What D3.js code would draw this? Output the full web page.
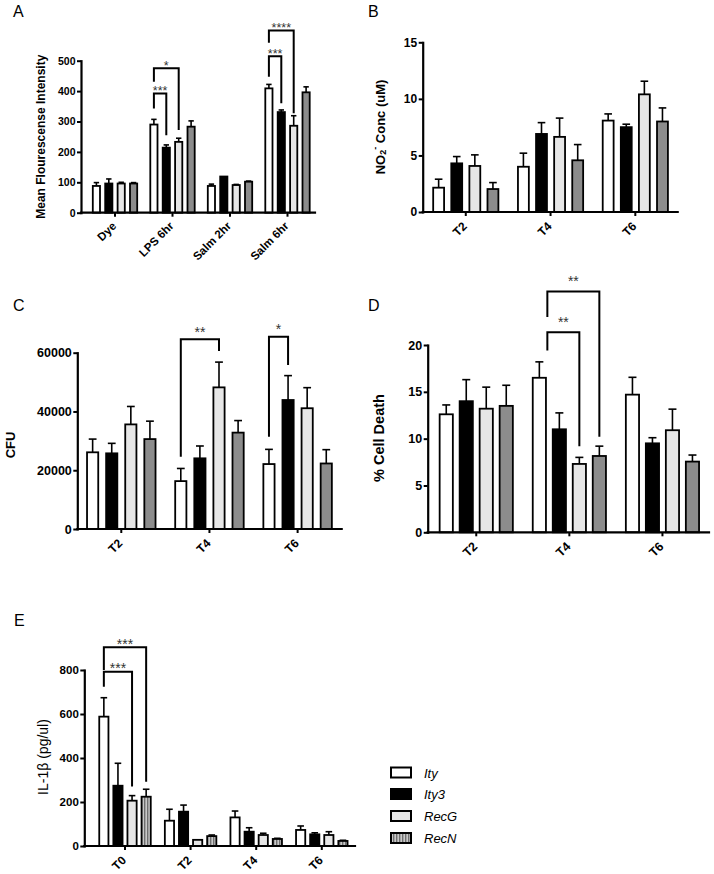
<!DOCTYPE html>
<html><head><meta charset="utf-8">
<script src="https://cdn.jsdelivr.net/npm/d3@7"></script>
<style>
body{margin:0;background:#fff}
svg{display:block;font-family:"Liberation Sans",Arial,Helvetica,sans-serif}
</style>
</head><body>
<svg id="chart" width="714" height="874"></svg>
<script>
// ---------------- DATA ----------------
const series = ["Ity", "Ity3", "RecG", "RecN"];

// Panel A: Mean Fluorescence Intensity
const catsA = ["Dye", "LPS 6hr", "Salm 2hr", "Salm 6hr"];
const meanA = [[88, 96, 96, 96], [290, 214, 233, 283], [88, 119, 91, 102], [409, 331, 286, 396]];
const semA  = [[11, 15, 4, 3], [17, 9, 12, 19], [6, 0, 2, 2], [13, 7, 33, 18]];
const ticksA = [0, 100, 200, 300, 400, 500];
const sigA = [
  {g: 1, from: 0, to: 1, top: 392, left: 343, right: 255, label: "***"},
  {g: 1, from: 0, to: 2, top: 475, left: 431, right: 272, label: "*"},
  {g: 3, from: 0, to: 1, top: 515, left: 447, right: 360, label: "***"},
  {g: 3, from: 0, to: 2, top: 599, left: 559, right: 327, label: "****"}
];

// Panel B: NO2- concentration
const catsB = ["T2", "T4", "T6"];
const meanB = [[2.15, 4.3, 4.07, 2.03], [4.0, 6.9, 6.64, 4.57], [8.08, 7.5, 10.4, 8.0]];
const semB  = [[0.75, 0.6, 0.98, 0.57], [1.2, 1.0, 1.66, 1.39], [0.59, 0.26, 1.16, 1.2]];
const ticksB = [0, 5, 10, 15];
const sigB = [];

// Panel C: CFU
const catsC = ["T2", "T4", "T6"];
const meanC = [[26100, 25750, 35600, 30600], [16300, 24050, 48200, 32800], [22100, 43900, 41100, 22300]];
const semC  = [[4500, 3400, 6100, 6100], [4300, 4200, 8600, 4100], [5000, 8300, 7000, 4700]];
const ticksC = [0, 20000, 40000, 60000];
const sigC = [
  {g: 1, from: 0, to: 2, top: 64540, left: 24610, right: 60570, label: "**"},
  {g: 2, from: 0, to: 1, top: 65440, left: 31420, right: 55800, label: "*"}
];

// Panel D: % Cell Death
const catsD = ["T2", "T4", "T6"];
const meanD = [[12.6, 14.0, 13.2, 13.5], [16.5, 11.0, 7.3, 8.15], [14.7, 9.5, 10.9, 7.55]];
const semD  = [[1.0, 2.3, 2.3, 2.2], [1.7, 1.75, 0.7, 1.05], [1.85, 0.6, 2.25, 0.7]];
const ticksD = [0, 5, 10, 15, 20];
const sigD = [
  {g: 1, from: 0.4, to: 2, top: 21.35, left: 19.4, right: 9.2, label: "**"},
  {g: 1, from: 0.4, to: 3, top: 25.7, left: 23.0, right: 10.2, label: "**"}
];

// Panel E: IL-1beta
const catsE = ["T0", "T2", "T4", "T6"];
const meanE = [[588, 274, 206, 224], [115, 156, 28, 45], [130, 65, 50, 32], [73, 53, 50, 23]];
const semE  = [[86, 102, 23, 34], [52, 30, 0, 5], [29, 18, 8, 3], [18, 7, 15, 3]];
const ticksE = [0, 200, 400, 600, 800];
const sigE = [
  {g: 0, from: 0, to: 2, top: 792, left: 724, right: 270, label: "***"},
  {g: 0, from: 0, to: 3, top: 903, left: 800, right: 292, label: "***"}
];

// ---------------- DRAWING ----------------
const svg = d3.select("#chart");
const defs = svg.append("defs");
const pat = defs.append("pattern").attr("id", "stripes")
  .attr("patternUnits", "userSpaceOnUse").attr("width", 3).attr("height", 6);
pat.append("rect").attr("width", 3).attr("height", 6).attr("fill", "#c8c8c8");
pat.append("rect").attr("width", 1.4).attr("height", 6).attr("fill", "#6e6e6e");

const solidFill = {Ity: "#ffffff", Ity3: "#000000", RecG: "#e6e6e6", RecN: "#8c8c8c"};
const stripeFill = {Ity: "#ffffff", Ity3: "#000000", RecG: "#e6e6e6", RecN: "url(#stripes)"};

function panel(p) {
  const g = svg.append("g");
  const y = d3.scaleLinear().domain([0, p.yMax]).range(p.yRange);
  const x0 = d3.scaleBand().domain(p.cats).range(p.band);
  const half = 1.5 * p.step + p.barW / 2;
  const x1 = d3.scaleBand().domain(series).range([-half, half]).paddingInner(1 - p.barW / p.step);
  const sw = 1.8;
  const cx = c => x0(c) + x0.bandwidth() / 2;
  const capW = Math.min(x1.bandwidth() * 0.6, 8);

  p.cats.forEach((c, gi) => {
    series.forEach((s, si) => {
      const v = p.mean[gi][si], e = p.sem[gi][si];
      const bx = cx(c) + x1(s);
      const bw = x1.bandwidth();
      const mid = bx + bw / 2;
      if (e > 0) {
        g.append("line").attr("x1", mid).attr("x2", mid).attr("y1", y(v)).attr("y2", y(v + e))
          .attr("stroke", "#000").attr("stroke-width", 1.6);
        g.append("line").attr("x1", mid - capW / 2).attr("x2", mid + capW / 2)
          .attr("y1", y(v + e)).attr("y2", y(v + e))
          .attr("stroke", "#000").attr("stroke-width", 1.6);
      }
      g.append("rect").attr("x", bx + sw / 2).attr("y", y(v))
        .attr("width", bw - sw).attr("height", y(0) - y(v))
        .attr("fill", p.fills[s]).attr("stroke", "#000").attr("stroke-width", sw);
    });
  });

  // y axis
  const ya = g.append("g").attr("transform", `translate(${p.xAxis[0]},0)`)
    .call(d3.axisLeft(y).tickValues(p.ticks).tickSize(4).tickSizeOuter(0).tickPadding(1.5).tickFormat(d3.format("d")));
  ya.select(".domain").attr("stroke-width", 2.2).attr("stroke-linecap", "square");
  ya.selectAll(".tick line").attr("stroke-width", 2);
  ya.selectAll(".tick text").attr("font-size", p.tickFont).attr("font-weight", "bold")
    .attr("fill", "#000").attr("font-family", "Liberation Sans, Arial, sans-serif");

  // x axis
  const xa = g.append("g").attr("transform", `translate(0,${y(0)})`)
    .call(d3.axisBottom(x0).tickSize(4).tickSizeOuter(0));
  xa.select(".domain").remove();
  xa.append("line").attr("x1", p.xAxis[0]).attr("x2", p.xAxis[1]).attr("y1", 0).attr("y2", 0)
    .attr("stroke", "#000").attr("stroke-width", 2.2).attr("stroke-linecap", "square");
  xa.selectAll(".tick line").attr("stroke-width", 2);
  xa.selectAll(".tick text").attr("font-size", p.xFont).attr("font-weight", "bold")
    .attr("fill", "#000").attr("font-family", "Liberation Sans, Arial, sans-serif")
    .attr("text-anchor", "end").attr("y", 0).attr("dy", 0)
    .attr("transform", `translate(2,${p.xLabOff}) rotate(-45)`);

  // significance brackets
  p.sig.forEach(b => {
    const c = cx(p.cats[b.g]);
    const bx = i => c + (i - 1.5) * p.step;
    const xl = bx(b.from), xr = bx(b.to);
    g.append("path")
      .attr("d", `M${xl},${y(b.left)}V${y(b.top)}H${xr}V${y(b.right)}`)
      .attr("fill", "none").attr("stroke", "#000").attr("stroke-width", 2);
    g.append("text").attr("x", (xl + xr) / 2).attr("y", y(b.top) - p.starOff + p.starFont * 0.55)
      .attr("text-anchor", "middle").attr("font-size", p.starFont).attr("fill", "#333")
      .text(b.label);
  });

  // panel letter
  g.append("text").attr("x", p.letter[0]).attr("y", p.letter[1]).attr("font-size", 16)
    .attr("fill", "#000").text(p.name);
  return g;
}

const pA = panel({name: "A", cats: catsA, mean: meanA, sem: semA, ticks: ticksA, sig: sigA, yMax: 500,
  yRange: [212.7, 60.7], band: [86.25, 316.25], xAxis: [81, 315], step: 12.4, barW: 9,
  tickFont: 10.5, xFont: 11.5, xLabOff: 14, starOff: 5, starFont: 12.5, fills: solidFill, letter: [13, 17]});
const pB = panel({name: "B", cats: catsB, mean: meanB, sem: semB, ticks: ticksB, sig: sigB, yMax: 15,
  yRange: [212, 42.3], band: [423.4, 677.7], xAxis: [422.7, 677.7], step: 18.1, barW: 12.7,
  tickFont: 12, xFont: 12, xLabOff: 15, starOff: 6, starFont: 14, fills: solidFill, letter: [368, 17]});
const pC = panel({name: "C", cats: catsC, mean: meanC, sem: semC, ticks: ticksC, sig: sigC, yMax: 60000,
  yRange: [529, 352.7], band: [77.2, 341.7], xAxis: [77.3, 341.7], step: 19.1, barW: 13,
  tickFont: 12.5, xFont: 12, xLabOff: 15, starOff: 10, starFont: 14, fills: solidFill, letter: [13, 311]});
const pD = panel({name: "D", cats: catsD, mean: meanD, sem: semD, ticks: ticksD, sig: sigD, yMax: 20,
  yRange: [532.3, 345], band: [429.7, 709], xAxis: [427.7, 709], step: 20, barW: 15,
  tickFont: 12.5, xFont: 12.5, xLabOff: 15, starOff: 13, starFont: 14, fills: solidFill, letter: [368, 311]});
const pE = panel({name: "E", cats: catsE, mean: meanE, sem: semE, ticks: ticksE, sig: sigE, yMax: 800,
  yRange: [846, 670], band: [92.2, 354.6], xAxis: [84.3, 355], step: 14.1, barW: 11,
  tickFont: 11.5, xFont: 12, xLabOff: 15, starOff: 6.5, starFont: 14, fills: stripeFill, letter: [14, 625.5]});

// axis titles
function ytitle(x, y, size, weight) {
  return svg.append("text").attr("transform", `translate(${x},${y}) rotate(-90)`)
    .attr("text-anchor", "middle").attr("dominant-baseline", "central")
    .attr("font-size", size).attr("font-weight", weight).attr("fill", "#000");
}
ytitle(40.5, 136.7, 12, "bold").text("Mean Flourescense Intensity");
const tB = ytitle(380, 127, 13, "bold");
tB.append("tspan").text("NO");
tB.append("tspan").attr("font-size", 9).attr("dy", 3).text("2");
tB.append("tspan").attr("font-size", 9).attr("dy", -8).text("-");
tB.append("tspan").attr("dy", 5).text(" Conc (uM)");
ytitle(10, 445, 13, "bold").text("CFU");
ytitle(378.7, 438, 14.5, "bold").text("% Cell Death");
ytitle(43, 757, 14, "normal").text("IL-1\u03B2 (pg/ul)");

// legend
const legTop = [767.5, 789, 811, 833];
const leg = svg.append("g");
series.forEach((s, i) => {
  leg.append("rect").attr("x", 391).attr("y", legTop[i]).attr("width", 20).attr("height", 10)
    .attr("fill", stripeFill[s]).attr("stroke", "#000").attr("stroke-width", 2);
  leg.append("text").attr("x", 424).attr("y", legTop[i] + 10).attr("font-size", 13)
    .attr("font-style", "italic").attr("fill", "#000").text(s);
});
</script>
</body></html>
